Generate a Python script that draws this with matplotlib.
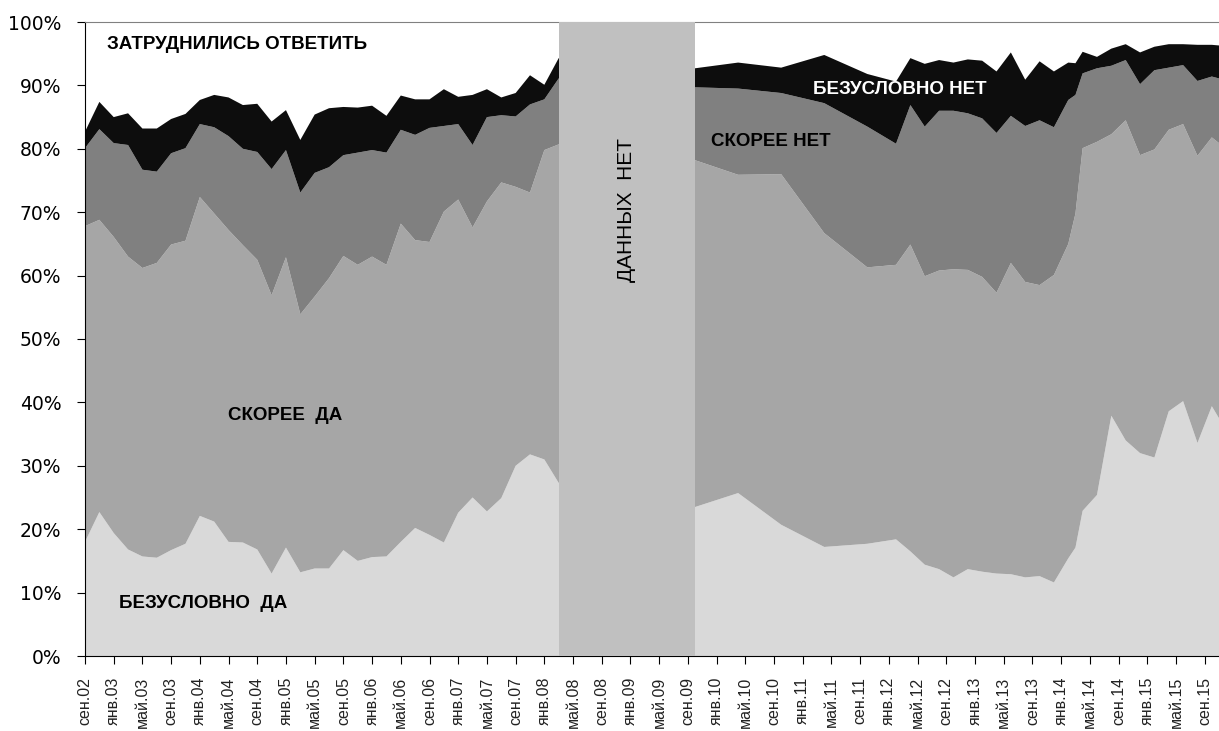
import numpy as np
import matplotlib.pyplot as plt

plt.rcParams['font.family'] = ['Liberation Sans', 'DejaVu Sans']

# даты замеров (год-месяц)
dates = ['2002-09', '2002-11', '2003-01', '2003-03', '2003-05', '2003-07', '2003-09', '2003-11',
         '2004-01', '2004-03', '2004-05', '2004-07', '2004-09', '2004-11', '2005-01', '2005-03',
         '2005-05', '2005-07', '2005-09', '2005-11', '2006-01', '2006-03', '2006-05', '2006-07',
         '2006-09', '2006-11', '2007-01', '2007-03', '2007-05', '2007-07', '2007-09', '2007-11',
         '2008-01', '2008-03',
         '2009-10', '2010-04', '2010-10', '2011-04', '2011-10', '2012-02', '2012-04', '2012-06',
         '2012-08', '2012-10', '2012-12', '2013-02', '2013-04', '2013-06', '2013-08', '2013-10',
         '2013-12', '2014-02', '2014-03', '2014-04', '2014-06', '2014-08', '2014-10', '2014-12',
         '2015-02', '2015-04', '2015-06', '2015-08', '2015-10', '2015-11']

bezuslovno_da = [18.0, 22.7, 19.4, 16.8, 15.7, 15.5, 16.7, 17.7, 22.1, 21.2, 18.0, 17.9, 16.8, 13.0,
                 17.1, 13.2, 13.8, 13.8, 16.7, 15.0, 15.6, 15.7, 18.0, 20.2, 19.1, 17.9, 22.6, 25.0,
                 22.8, 24.9, 30.0, 31.8, 31.0, 27.3,
                 23.5, 25.7, 20.7, 17.2, 17.7, 18.4, 16.5, 14.4, 13.7, 12.4, 13.7, 13.3, 13.0, 12.9,
                 12.4, 12.6, 11.6, 15.4, 17.1, 22.9, 25.4, 37.9, 34.0, 32.0, 31.3, 38.6, 40.2, 33.6,
                 39.4, 37.5]
skoree_da = [49.8, 46.1, 46.7, 46.2, 45.5, 46.5, 48.2, 47.8, 50.3, 48.6, 49.2, 46.9, 45.7, 43.9,
             45.8, 40.7, 42.9, 45.8, 46.4, 46.7, 47.4, 46.0, 50.2, 45.4, 46.2, 52.2, 49.4, 42.6,
             48.9, 49.8, 44.0, 41.3, 48.8, 53.4,
             54.7, 50.2, 55.3, 49.5, 43.6, 43.3, 48.4, 45.5, 47.1, 48.6, 47.2, 46.5, 44.3, 49.1,
             46.6, 45.9, 48.5, 49.6, 52.7, 57.2, 55.7, 44.4, 50.5, 47.0, 48.6, 44.4, 43.7, 45.3,
             42.4, 43.4]
skoree_net = [12.3, 14.3, 14.8, 17.6, 15.5, 14.4, 14.4, 14.6, 11.5, 13.6, 14.8, 15.2, 17.0, 19.9,
              16.9, 19.2, 19.5, 17.5, 15.9, 17.7, 16.8, 17.7, 14.8, 16.6, 18.0, 13.5, 11.9, 13.0,
              13.3, 10.6, 11.1, 13.9, 8.0, 10.4,
              11.5, 13.6, 12.8, 20.5, 22.2, 19.1, 22.0, 23.6, 25.2, 25.0, 24.7, 25.0, 25.2, 23.2,
              24.6, 26.0, 23.3, 22.7, 18.7, 11.8, 11.6, 10.8, 9.5, 11.2, 12.5, 9.8, 9.3, 11.8,
              9.6, 10.2]
bezuslovno_net = [2.6, 4.3, 4.1, 5.0, 6.5, 6.8, 5.4, 5.4, 3.8, 5.1, 6.1, 6.9, 7.6, 7.5,
                  6.3, 8.3, 9.2, 9.3, 7.6, 7.1, 7.0, 5.8, 5.4, 5.6, 4.5, 5.8, 4.3, 7.9,
                  4.4, 2.8, 3.7, 4.6, 2.3, 3.2,
                  3.0, 4.1, 4.0, 7.6, 8.3, 9.8, 7.4, 9.9, 8.0, 7.6, 8.5, 9.1, 9.7, 10.0,
                  7.3, 9.3, 8.8, 5.9, 5.0, 3.4, 1.8, 2.7, 2.5, 5.0, 3.7, 3.7, 3.3, 5.7,
                  5.0, 5.2]

no_data = ('2008-03', '2009-10')

tick_labels = ['сен.02', 'янв.03', 'май.03', 'сен.03', 'янв.04', 'май.04', 'сен.04', 'янв.05',
               'май.05', 'сен.05', 'янв.06', 'май.06', 'сен.06', 'янв.07', 'май.07', 'сен.07',
               'янв.08', 'май.08', 'сен.08', 'янв.09', 'май.09', 'сен.09', 'янв.10', 'май.10',
               'сен.10', 'янв.11', 'май.11', 'сен.11', 'янв.12', 'май.12', 'сен.12', 'янв.13',
               'май.13', 'сен.13', 'янв.14', 'май.14', 'сен.14', 'янв.15', 'май.15', 'сен.15']


def month_index(s):
    y, m = s.split('-')
    return (int(y) - 2002) * 12 + int(m) - 9


x = np.array([month_index(d) for d in dates])

fig = plt.figure(figsize=(12.19, 7.31), dpi=100)
ax = fig.add_axes([85 / 1219, 1 - 656 / 731, 1 - 85 / 1219, (656 - 22) / 731])

ax.stackplot(x, bezuslovno_da, skoree_da, skoree_net, bezuslovno_net,
             colors=['#d9d9d9', '#a6a6a6', '#808080', '#0d0d0d'], linewidth=0)

# серый блок "данных нет"
ax.axvspan(month_index(no_data[0]), month_index(no_data[1]), color='#c0c0c0', lw=0, zorder=3)
ax.text((month_index(no_data[0]) + month_index(no_data[1])) / 2, 70.3, 'ДАННЫХ  НЕТ',
        rotation=90, ha='center', va='center', fontsize=15, zorder=4)

ax.text(3.1, 96.4, 'ЗАТРУДНИЛИСЬ ОТВЕТИТЬ', fontsize=13.5, fontweight='bold', va='center')
ax.text(27.9, 37.9, 'СКОРЕЕ  ДА', fontsize=13.5, fontweight='bold', ha='center', va='center')
ax.text(16.4, 8.3, 'БЕЗУСЛОВНО  ДА', fontsize=13.5, fontweight='bold', ha='center', va='center')
ax.text(95.5, 81.1, 'СКОРЕЕ НЕТ', fontsize=13.5, fontweight='bold', ha='center', va='center')
ax.text(113.5, 89.3, 'БЕЗУСЛОВНО НЕТ', fontsize=13.5, fontweight='bold', ha='center',
        va='center', color='white')

ax.set_xlim(0, 158)
ax.set_ylim(0, 100)
ax.set_xticks(np.arange(len(tick_labels)) * 4)
ax.set_xticklabels(tick_labels, rotation=90, fontsize=11.5, color='#222222')
ax.set_yticks(np.arange(0, 101, 10))
ax.set_yticklabels([f'{v}%' for v in range(0, 101, 10)], fontsize=13.5, family='DejaVu Sans')
ax.tick_params(axis='x', direction='out', length=6, pad=9)
ax.tick_params(axis='y', direction='out', length=6, pad=11)

ax.spines['right'].set_visible(False)
ax.spines['top'].set_color('#808080')
ax.spines['left'].set_color('black')
ax.spines['bottom'].set_color('black')

fig.savefig('out.png', dpi=100)
